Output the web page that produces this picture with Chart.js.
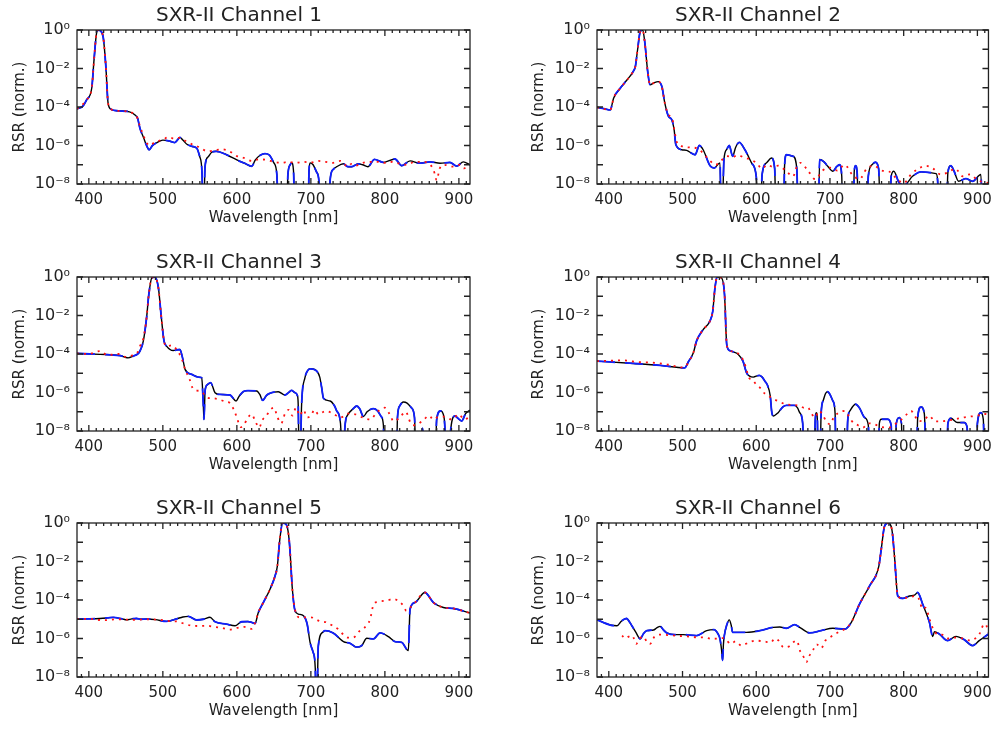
<!DOCTYPE html>
<html>
<head>
<meta charset="utf-8">
<script src="https://cdn.jsdelivr.net/npm/chart.js@4/dist/chart.umd.min.js"></script>
<style>
  html, body { margin: 0; padding: 0; background: #fff; }
  #wrap { position: relative; width: 999px; height: 731px; overflow: hidden; }
  canvas { position: absolute; }
</style>
</head>
<body>
<div id="wrap">
  <canvas id="c1"></canvas><canvas id="c2"></canvas>
  <canvas id="c3"></canvas><canvas id="c4"></canvas>
  <canvas id="c5"></canvas><canvas id="c6"></canvas>
</div>
<script>
// axis setup
const wavelengthTicks = [400, 500, 600, 700, 800, 900];
const rsrTicks = [1e-8, 1e-6, 1e-4, 1e-2, 1];
const panelTitles = ['SXR-II Channel 1', 'SXR-II Channel 2', 'SXR-II Channel 3',
                     'SXR-II Channel 4', 'SXR-II Channel 5', 'SXR-II Channel 6'];

// RSR, stored as log10(RSR); -11 = deep null below the axis
const ch1Wl  = [384,392,397,404,407,410.5,413,416,419.5,423,426,430,440,455,462,466,469,474,478,481.5,486,492,500,510,516,520,523,527,533,540,546,550,553,554.5,557,561,566,572,586,600,612,620,625,631,638,644,650,654,657,666,669,672,674,676.5,679,696,697.5,699,703,708,711,713,723.5,726,730,735,744,750,755,764,770,777,786,798,813.7,822.7,834,847,861,874.5,888,897,906,915];
const ch1Exp = [-4.1,-3.95,-3.63,-3.0,-1.55,-0.15,0,-0.05,-0.4,-1.9,-3.8,-4.12,-4.2,-4.25,-4.4,-4.6,-5.1,-5.6,-6.0,-6.22,-6.0,-5.85,-5.72,-5.78,-5.85,-5.7,-5.58,-5.72,-5.95,-6.05,-6.15,-6.6,-7.5,-11,-7.1,-6.6,-6.35,-6.3,-6.48,-6.75,-6.95,-7.08,-6.75,-6.52,-6.42,-6.5,-6.9,-7.5,-11,-11,-7.5,-7.0,-6.9,-7.3,-11,-11,-7.3,-6.9,-7.0,-7.4,-7.9,-11,-11,-7.8,-7.25,-7.1,-6.95,-7.1,-7.1,-6.95,-7.0,-7.1,-6.72,-6.88,-6.7,-7.05,-6.8,-6.92,-6.85,-6.92,-6.88,-7.07,-6.85,-7.0];
const ch1RedWl  = [384,397,404,407,410.5,413,416,419.5,423,426,430,440,455,462,466,469,474,478,482,490,500,508,515,522,530,540,550,560,570,580,590,600,610,620,630,640,650,660,670,680,690,700,710,720,730,740,750,755,760,770,780,790,800,810,820,830,840,850,860,866,870,874,880,890,900,906,913];
const ch1RedExp = [-4.1,-3.63,-3.0,-1.55,-0.15,0,-0.05,-0.4,-1.9,-3.8,-4.12,-4.2,-4.25,-4.4,-4.6,-5.0,-5.5,-5.85,-6.0,-5.8,-5.7,-5.55,-5.65,-5.6,-5.75,-5.95,-6.1,-6.3,-6.25,-6.2,-6.3,-6.55,-6.65,-6.8,-6.72,-6.75,-6.85,-6.9,-6.85,-6.9,-6.85,-6.88,-6.8,-6.85,-6.9,-6.8,-7.1,-6.95,-7.05,-6.9,-6.85,-6.85,-6.9,-6.85,-6.95,-7.0,-6.85,-6.85,-6.95,-7.3,-7.8,-7.2,-7.0,-7.1,-7.0,-7.2,-7.05];

const ch2Wl  = [384,395,402,406.5,415.6,424.6,433.6,436,439,442.6,446,449,452.5,456,460.6,467,472,476,481,485.4,488.6,491,499,505.7,517,522.9,528,537.3,543,550.8,553,556.2,560,563.4,568,572,577,584.6,593.6,600,604.9,608,614,620.7,625,627.5,636.5,638.5,641,650,655,657.7,683.8,686,692,697,704,709,713,716,717.6,731,733,734.8,737,739,749,752,757,761.8,766,769.5,780.7,783,786.6,794,801,812,823.6,843.9,846,848,857,860,864,868,874.5,884.4,893.5,904.7,907.9,915];
const ch2Exp = [-4.02,-4.1,-4.15,-3.54,-3.02,-2.6,-2.12,-1.9,-1.04,-0.09,0,-0.7,-2.07,-2.85,-2.76,-2.68,-2.94,-3.8,-4.49,-4.66,-5.18,-5.96,-6.22,-6.25,-6.48,-6.0,-6.22,-7.05,-7.17,-6.9,-11,-6.73,-6.2,-6.0,-6.56,-6.1,-5.84,-6.22,-6.9,-7.6,-11,-7.5,-6.9,-6.65,-7.2,-11,-11,-7.0,-6.48,-6.56,-7.2,-11,-11,-6.73,-6.85,-7.08,-7.34,-7.1,-7.0,-7.6,-11,-11,-7.3,-7.05,-7.5,-11,-11,-7.6,-7.0,-6.87,-7.2,-11,-11,-7.6,-7.34,-7.95,-8.05,-7.6,-7.37,-7.46,-7.8,-11,-11,-7.4,-7.05,-7.3,-7.86,-7.72,-7.86,-7.51,-11,-11];
const ch2RedWl  = [384,402,406.5,415.6,424.6,433.6,436,439,442.6,446,449,452.5,456,460.6,467,472,476,481,486,489,492,500,510,520,528,535,545,552,560,568,575,582,590,600,608,615,622,630,640,650,655,660,670,680,690,700,710,720,730,740,750,760,770,780,790,800,810,820,830,840,850,860,870,880,890,900,908,915];
const ch2RedExp = [-4.02,-4.15,-3.54,-3.02,-2.6,-2.12,-1.9,-1.04,-0.09,0,-0.7,-2.07,-2.85,-2.76,-2.68,-2.94,-3.8,-4.4,-4.6,-5.2,-5.8,-6.05,-6.1,-6.15,-6.4,-6.7,-7.0,-6.8,-6.55,-6.6,-6.5,-6.6,-6.7,-6.9,-7.2,-7.0,-7.1,-7.05,-7.3,-7.6,-7.1,-6.9,-7.3,-7.75,-7.3,-7.15,-7.3,-7.0,-7.5,-7.75,-7.2,-7.05,-7.3,-7.35,-7.7,-7.95,-7.5,-7.2,-7.05,-7.2,-7.5,-7.4,-7.2,-7.6,-7.5,-7.8,-7.9,-7.95];

const ch3Wl  = [384,415,442,450,453,460,466,469,473.6,478,481,485,489,494,498,501.6,505,514,520,523,526,528,530,539,548,552.5,554.5,555.6,556.5,557,560,564.6,570.5,577,590.8,598.9,603,608.8,615,626.8,631,634.9,640,644.8,650,656,665,670,674,678,682,683,684.5,687.5,692,695,698.9,703,708,712,714.6,717,726,732,735,740,743.5,746,750,757,762,766,771,776,784.5,790,795,798,800,815,817,820,825,830,836,840,843,847,851,855,867,870,875,880,885.5,889,894.8,899,903.8,909,915];
const ch3Exp = [-3.97,-4.02,-4.08,-4.18,-4.2,-4.11,-4.0,-3.85,-3.33,-2.12,-0.92,-0.05,0,-0.57,-2.12,-3.33,-3.59,-3.82,-3.78,-3.77,-4.1,-4.46,-4.8,-5.06,-5.2,-5.23,-6.5,-7.4,-6.5,-5.92,-5.6,-5.49,-6.01,-6.1,-6.13,-6.44,-6.2,-5.95,-5.9,-5.92,-6.1,-6.41,-6.15,-6.04,-5.98,-5.96,-6.13,-6.0,-5.89,-6.0,-6.18,-6.8,-11,-6.6,-5.23,-4.9,-4.77,-4.78,-4.89,-5.2,-5.75,-6.3,-6.44,-6.7,-6.96,-7.6,-11,-7.8,-7.15,-6.85,-6.7,-6.85,-7.25,-7.0,-6.84,-6.95,-7.25,-7.7,-11,-11,-7.3,-6.7,-6.49,-6.55,-6.8,-7.3,-11,-11,-7.85,-11,-11,-7.4,-6.96,-7.3,-11,-7.9,-7.22,-7.35,-7.48,-7.1,-6.91];
const ch3RedWl  = [384,400,415,425,440,450,460,466,469,473.6,478,481,485,489,494,498,501.6,505,512,520,526,530,536,540,546,550,556,560,568,575,583,590,596,600,605,610,615,620,625,630,635,640,645,650,655,660,665,670,675,680,685,690,695,700,705,710,720,730,740,750,760,770,780,790,800,806,812,820,828,835,840,850,860,865,870,880,890,900,907,915];
const ch3RedExp = [-3.97,-4.0,-3.85,-4.05,-4.0,-4.15,-4.05,-3.9,-3.6,-3.2,-2.12,-0.92,-0.05,0,-0.57,-2.12,-3.33,-3.6,-3.55,-3.85,-4.3,-4.8,-5.3,-5.75,-5.9,-5.92,-6.1,-6.27,-6.3,-6.35,-6.45,-6.53,-6.9,-7.3,-7.8,-7.65,-7.3,-7.13,-7.5,-7.82,-7.4,-7.2,-6.9,-6.79,-7.3,-7.6,-7.1,-6.9,-7.2,-6.79,-7.2,-6.9,-7.3,-7.2,-6.9,-7.13,-6.96,-7.1,-7.3,-7.1,-7.13,-7.3,-7.4,-7.0,-6.79,-7.1,-7.5,-7.3,-7.0,-7.6,-7.7,-7.5,-7.2,-7.4,-7.3,-7.25,-7.4,-7.13,-7.4,-7.25];

const ch4Wl  = [384,433.6,469.7,503,508,514.7,519,528,537,541,544,547,553,557,560,564,569,575.6,582,586.8,591,596,604,608,611.7,615,619,621,623,629.7,636,641,652,656,659,663,665.8,678.4,680,681.6,683,684,686,688,691,694,697,700,704,707,708.6,722,724,727,734.8,740,747,752,754.6,765,767,769.5,778.5,783,785,787.5,790,794,797,798.8,816.8,819,823.6,828,831.7,857.4,860,864,873,882,886,888,898,900,904.7,908,910.6,915];
const ch4Exp = [-4.37,-4.49,-4.59,-4.72,-4.4,-3.94,-3.33,-2.73,-2.3,-1.78,-0.57,0,-0.05,-0.92,-3.51,-3.82,-3.89,-4.02,-4.37,-4.97,-5.15,-5.2,-5.11,-5.2,-5.41,-5.6,-6.18,-7.0,-7.22,-7.05,-6.75,-6.67,-6.67,-6.8,-7.05,-7.6,-11,-11,-7.5,-7.05,-7.5,-11,-11,-7.1,-6.4,-6.05,-5.96,-6.1,-6.44,-7.1,-11,-11,-7.5,-6.96,-6.61,-6.8,-7.3,-7.7,-11,-11,-7.6,-7.39,-7.39,-7.7,-11,-11,-7.6,-7.3,-7.6,-11,-11,-7.3,-6.75,-7.1,-11,-11,-7.6,-7.34,-7.56,-7.56,-7.8,-11,-11,-7.6,-7.05,-7.4,-11,-11];
const ch4RedWl  = [384,400,420,440,460,480,500,505,510,515,519,528,537,541,544,547,553,557,560,564,570,578,582,586,590,595,600,605,610,615,620,630,640,650,660,665,670,675,680,685,690,695,700,705,710,720,725,730,738,745,752,760,770,780,790,800,805,810,815,820,828,835,842,850,860,870,880,890,900,908,915];
const ch4RedExp = [-4.37,-4.35,-4.33,-4.42,-4.45,-4.55,-4.7,-4.6,-4.3,-3.9,-3.33,-2.73,-2.3,-1.78,-0.57,0,-0.05,-0.92,-3.51,-3.82,-3.9,-4.05,-4.3,-4.7,-5.23,-5.35,-5.58,-5.75,-6.01,-6.1,-6.27,-6.45,-6.61,-6.65,-6.7,-6.8,-6.79,-7.1,-7.3,-6.95,-7.15,-7.5,-7.65,-7.3,-7.1,-6.96,-7.2,-7.5,-7.7,-7.82,-7.6,-7.65,-7.8,-7.82,-7.6,-7.3,-7.1,-6.96,-7.2,-7.5,-7.4,-7.2,-7.5,-7.5,-7.45,-7.39,-7.3,-7.25,-7.2,-7.1,-7.15];

const ch5Wl  = [384,400,415,425,433,445,451,458,464.6,470,478,490,505,518.7,527,534.5,545.7,554.7,563.7,570.5,586,597.5,606.5,615,620,624.5,629,635.8,644.8,651.6,654.7,658,661.9,667,671,675,678.6,683,690,695,698.9,703,706,707.5,710,716,719,730,744,753,762,768.7,775.5,784.5,793.5,804.7,813.7,822.7,831.7,834,840.7,854,865.5,879,892.6,915];
const ch5Exp = [-4.99,-4.98,-4.96,-4.93,-4.9,-4.98,-5.03,-4.98,-4.96,-5.0,-4.99,-5.02,-5.11,-4.98,-4.88,-4.85,-5.04,-5.0,-4.9,-5.13,-5.25,-5.34,-5.13,-5.12,-5.16,-5.22,-4.65,-4.13,-3.44,-2.75,-2.24,-0.86,0,-0.09,-1.03,-3.44,-4.56,-4.73,-4.82,-5.25,-6.2,-6.71,-7.6,-11,-6.4,-5.68,-5.59,-5.71,-6.16,-6.25,-6.45,-6.37,-5.99,-6.02,-5.71,-5.9,-6.16,-6.2,-6.63,-4.48,-4.13,-3.61,-4.13,-4.39,-4.44,-4.68];
const ch5RedWl  = [384,400,420,440,460,480,500,510,520,530,540,550,560,570,580,590,600,610,615,620,624.5,629,635.8,644.8,651.6,654.7,658,661.9,667,671,675,678.6,685,700,712,720,730,738,744,750,757,762,766,772,776,780,784.5,790,798,805,811,820,825,829,834,840.7,854,865.5,879,892.6,915];
const ch5RedExp = [-4.99,-4.98,-5.05,-5.0,-5.03,-5.0,-5.05,-5.1,-5.12,-5.25,-5.34,-5.35,-5.34,-5.4,-5.45,-5.54,-5.45,-5.4,-5.45,-5.5,-5.2,-4.65,-4.13,-3.44,-2.75,-2.24,-0.86,0,-0.09,-1.03,-3.44,-4.5,-4.9,-4.9,-5.1,-5.15,-5.35,-5.55,-5.8,-5.95,-5.95,-5.8,-5.6,-5.45,-5.3,-5.0,-4.25,-4.1,-4.05,-4.0,-3.95,-4.1,-4.3,-4.56,-4.4,-4.13,-3.61,-4.13,-4.39,-4.44,-4.68];

const ch6Wl  = [384,402,411,417,423.7,431.3,437,442.6,447,451.6,460.6,465,469.7,474,478.7,490,501,519,532.8,542.7,548,550.8,553,554.4,555.5,556.7,560,563.4,566,568,586.9,604.9,623,632,641,652,660,672.5,688,704,719.9,729,740,753.7,766.3,769.5,774,778.5,784,787.5,792,798.8,807.8,814.6,819,825.8,834.9,839.4,841.7,848.4,859.6,870.9,882,893.5,902.5,915];
const ch6Exp = [-5.03,-5.3,-5.34,-5.1,-4.96,-5.34,-5.7,-6.02,-5.75,-5.59,-5.56,-5.45,-5.37,-5.55,-5.71,-5.8,-5.8,-5.85,-5.59,-5.54,-5.75,-6.02,-6.6,-7.14,-6.3,-5.85,-5.3,-5.03,-5.3,-5.68,-5.68,-5.59,-5.42,-5.4,-5.47,-5.28,-5.45,-5.71,-5.59,-5.47,-5.51,-5.16,-4.22,-3.27,-2.24,-1.38,-0.17,0,-0.34,-1.72,-3.79,-3.92,-3.79,-3.75,-3.61,-4.22,-5.16,-5.9,-5.65,-5.77,-6.11,-5.89,-6.06,-6.37,-6.11,-5.77];
const ch6RedWl  = [418,423,427,432,437,442,447,452,456,462,470,480,490,500,510,520,530,540,548,555,560,565,572,580,590,600,610,620,625,630,637,645,650,655,660,665,668,672,677,682,688,694,700,710,720,729,740,753.7,766.3,769.5,774,778.5,784,787.5,792,798.8,807.8,815,820,826,830,835,840,845,852,860,870,880,890,897,903,908,911,915];
const ch6RedExp = [-5.85,-6.0,-5.9,-5.85,-6.28,-6.0,-5.9,-6.2,-6.28,-5.9,-5.8,-5.82,-5.85,-5.88,-5.9,-5.94,-5.95,-6.02,-6.0,-5.98,-6.1,-6.28,-6.15,-6.37,-6.2,-6.11,-6.15,-6.2,-6.0,-6.1,-6.45,-6.4,-6.2,-6.11,-6.71,-7.0,-7.23,-6.9,-6.6,-6.3,-6.5,-6.1,-5.94,-5.7,-5.51,-5.16,-4.22,-3.27,-2.24,-1.38,-0.17,0,-0.34,-1.72,-3.79,-3.9,-3.85,-3.8,-3.9,-4.48,-4.4,-4.99,-5.5,-5.77,-5.8,-6.0,-5.95,-6.0,-6.1,-6.0,-5.75,-5.3,-5.25,-5.7];

const panelData = [
  [ch1Wl, ch1Exp, ch1RedWl, ch1RedExp],
  [ch2Wl, ch2Exp, ch2RedWl, ch2RedExp],
  [ch3Wl, ch3Exp, ch3RedWl, ch3RedExp],
  [ch4Wl, ch4Exp, ch4RedWl, ch4RedExp],
  [ch5Wl, ch5Exp, ch5RedWl, ch5RedExp],
  [ch6Wl, ch6Exp, ch6RedWl, ch6RedExp]
];

const SUP = {'-': '\u207B', '0': '\u2070', '2': '\u00B2', '4': '\u2074', '6': '\u2076', '8': '\u2078'};
function powerLabel(v) {
  const e = String(Math.round(Math.log10(v)));
  return '10' + e.split('').map(c => SUP[c]).join('');
}

function toPoints(wl, ex) {
  return wl.map((w, k) => ({ x: w, y: Math.pow(10, ex[k]) }));
}

// IDL-style box with inward ticks on all four sides
const boxTicks = {
  id: 'boxTicks',
  afterDatasetsDraw(chart) {
    const { ctx, chartArea: a, scales: { x, y } } = chart;
    ctx.save();
    ctx.strokeStyle = '#222';
    ctx.lineWidth = 1.3;
    ctx.strokeRect(a.left, a.top, a.right - a.left, a.bottom - a.top);
    ctx.beginPath();
    for (let w = 390; w <= 910; w += 10) {
      const px = x.getPixelForValue(w);
      const len = w % 100 === 0 ? 6 : 3;
      ctx.moveTo(px, a.bottom); ctx.lineTo(px, a.bottom - len);
      ctx.moveTo(px, a.top); ctx.lineTo(px, a.top + len);
    }
    for (let e = -8; e <= 0; e++) {
      const py = y.getPixelForValue(Math.pow(10, e));
      ctx.moveTo(a.left, py); ctx.lineTo(a.left + 6, py);
      ctx.moveTo(a.right, py); ctx.lineTo(a.right - 6, py);
    }
    ctx.stroke();
    ctx.restore();
  }
};

Chart.defaults.font.family = 'DejaVu Sans';
Chart.defaults.color = '#222';

const canvasTops = [0, 247, 493];
const canvasHeights = [245, 246, 238];

function drawPanel(i) {
  const col = i % 2, row = Math.floor(i / 2);
  const cv = document.getElementById('c' + (i + 1));
  const W = col ? 499 : 500, H = canvasHeights[row];
  cv.width = W; cv.height = H;
  cv.style.left = (col ? 500 : 0) + 'px';
  cv.style.top = canvasTops[row] + 'px';
  const areaLeft = col ? 97 : 77, areaRight = col ? 489 : 470;
  const padLeft = col ? 27 : 8;
  const [wl, ex, redWl, redEx] = panelData[i];
  const line = toPoints(wl, ex);

  new Chart(cv, {
    type: 'line',
    data: {
      datasets: [
        { label: 'red', data: toPoints(redWl, redEx), borderColor: '#ff1010', borderWidth: 1.8,
          borderDash: [2, 5], cubicInterpolationMode: 'monotone' },
        { label: 'blue', data: line, borderColor: '#1020ff', borderWidth: 1.8,
          borderDash: [18, 10], cubicInterpolationMode: 'monotone' },
        { label: 'black', data: line, borderColor: '#000000', borderWidth: 1.4,
          cubicInterpolationMode: 'monotone' }
      ]
    },
    options: {
      responsive: false,
      animation: false,
      elements: { point: { radius: 0 } },
      layout: { padding: { left: padLeft, right: W - areaRight, top: 0, bottom: H - 230 } },
      plugins: {
        legend: { display: false },
        tooltip: { enabled: false },
        title: { display: true, text: panelTitles[i], color: '#222',
                 font: { size: 20, weight: 'normal', lineHeight: 1.1 }, padding: { top: 5, bottom: 3 } }
      },
      scales: {
        x: {
          type: 'linear', min: 384, max: 915,
          afterBuildTicks: s => { s.ticks = wavelengthTicks.map(v => ({ value: v })); },
          afterFit: s => { s.height = 46; },
          grid: { display: false, drawTicks: false },
          border: { display: false },
          ticks: { padding: 7, maxRotation: 0, autoSkip: false, font: { size: 15 } },
          title: { display: true, text: 'Wavelength [nm]', font: { size: 15, lineHeight: 1.2 },
                   padding: { top: 0, bottom: 3 } }
        },
        y: {
          type: 'logarithmic', min: 1e-8, max: 1,
          afterBuildTicks: s => { s.ticks = rsrTicks.map(v => ({ value: v })); },
          afterFit: s => { s.width = areaLeft - padLeft; },
          grid: { display: false, drawTicks: false },
          border: { display: false },
          ticks: { padding: 7, font: { size: 16 }, callback: v => powerLabel(v) },
          title: { display: true, text: 'RSR (norm.)', font: { size: 15, lineHeight: 1.2 },
                   padding: { top: 3, bottom: 0 } }
        }
      }
    },
    plugins: [boxTicks]
  });
}

for (let i = 0; i < 6; i++) drawPanel(i);
</script>
</body>
</html>
